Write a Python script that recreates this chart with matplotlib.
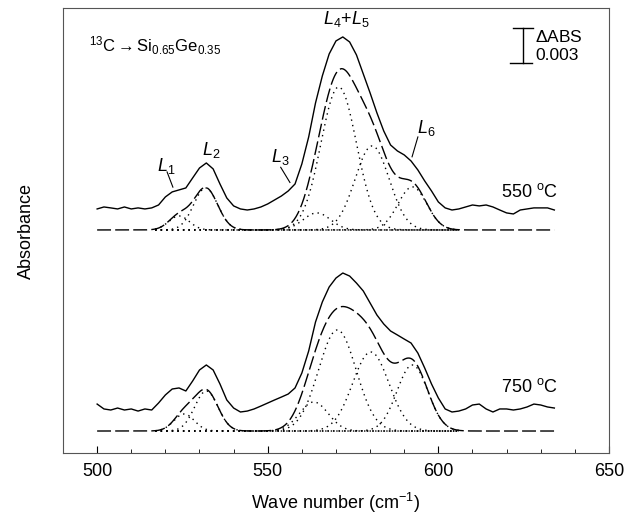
import matplotlib
matplotlib.use('Agg')
import matplotlib.pyplot as plt
import numpy as np

plt.rcParams['font.family'] = ['Liberation Sans', 'DejaVu Sans']
plt.rcParams['mathtext.fontset'] = 'custom'
plt.rcParams['mathtext.rm'] = 'Liberation Sans'
plt.rcParams['mathtext.it'] = 'Liberation Sans:italic'

# measured spectra, every 2 cm-1 from 500 to 634 (in 1e-3 ABS above fit baseline)
wn = np.arange(500, 636, 2)
meas_550 = [1.80, 1.97, 1.89, 1.80, 1.97, 1.80, 1.89, 1.80, 1.89, 2.14,
            2.83, 3.26, 3.43, 3.60, 4.46, 5.31, 5.74, 5.23, 3.94, 2.74,
            2.06, 1.80, 1.71, 1.80, 1.97, 2.23, 2.57, 2.91, 3.34, 3.94,
            5.66, 7.97, 10.88, 13.20, 15.08, 16.20, 16.54, 16.11, 15.00, 13.37,
            11.74, 10.03, 8.48, 7.28, 6.77, 6.43, 5.91, 5.14, 4.20, 3.34,
            2.40, 1.89, 1.71, 1.80, 1.97, 2.14, 2.06, 2.14, 1.97, 1.71,
            1.46, 1.37, 1.71, 1.80, 1.89, 1.89, 1.89, 1.71]
meas_750 = [2.31, 1.89, 1.80, 1.97, 1.80, 1.89, 1.71, 1.89, 1.80, 2.40,
            3.09, 3.60, 3.69, 3.43, 4.29, 5.23, 5.66, 5.23, 4.03, 2.66,
            1.97, 1.63, 1.71, 1.89, 2.14, 2.40, 2.66, 2.91, 3.17, 3.69,
            4.97, 6.86, 9.34, 11.06, 12.34, 13.11, 13.54, 13.28, 12.68, 12.00,
            10.97, 9.94, 9.17, 8.57, 8.23, 7.88, 7.54, 6.68, 5.40, 4.03,
            2.83, 1.89, 1.63, 1.71, 1.89, 2.23, 2.31, 1.89, 1.63, 1.89,
            1.89, 1.80, 1.89, 2.06, 2.31, 2.23, 2.06, 1.97]

# fitted gaussian components L1..L6: centre (cm-1), height (1e-3 ABS), sigma (cm-1)
cen_550 = [524.0, 531.8, 564.4, 570.8, 580.6, 592.4]
amp_550 = [1.20, 3.60, 1.46, 12.25, 7.20, 3.69]
sig_550 = [3.0, 3.5, 4.0, 5.2, 5.0, 4.2]
cen_750 = [525.5, 532.0, 563.5, 570.4, 580.2, 592.4]
amp_750 = [1.46, 3.43, 2.49, 8.66, 6.77, 5.66]
sig_750 = [3.0, 3.4, 4.2, 5.5, 5.3, 4.5]

offset_550 = 17.23   # vertical shift of the 550 C spectrum
offset_750 = 0.0

fig = plt.figure(figsize=(6.41, 5.20), dpi=100)
ax = fig.add_axes([0.0983, 0.1288, 0.8517, 0.8558])

x = np.linspace(500, 634, 700)
xc = np.linspace(517, 606, 400)

def draw(meas, cen, amp, sig, off):
    ax.plot(wn, np.array(meas) + off, color='k', lw=1.0)
    total = np.zeros_like(x)
    for c, a, s in zip(cen, amp, sig):
        total += a * np.exp(-(x - c)**2 / (2 * s**2))
        ax.plot(xc, a * np.exp(-(xc - c)**2 / (2 * s**2)) + off, color='k',
                lw=1.0, linestyle=(0, (1, 3)))
    ax.plot(x, total + off, color='k', lw=1.0, dashes=(10, 3))

draw(meas_550, cen_550, amp_550, sig_550, offset_550)
draw(meas_750, cen_750, amp_750, sig_750, offset_750)

# peak labels
fs = 13
ax.text(520.2, 22.7, r'$\mathit{L_1}$', fontsize=fs, ha='center', va='center')
ax.plot([520.5, 522.2], [22.2, 20.9], color='k', lw=0.8)
ax.text(533.4, 24.1, r'$\mathit{L_2}$', fontsize=fs, ha='center', va='center')
ax.text(553.6, 23.5, r'$\mathit{L_3}$', fontsize=fs, ha='center', va='center')
ax.plot([553.8, 556.5], [22.6, 21.3], color='k', lw=0.8)
ax.text(572.9, 35.3, r'$\mathit{L_4}$+$\mathit{L_5}$', fontsize=fs, ha='center', va='center')
ax.text(596.6, 26.0, r'$\mathit{L_6}$', fontsize=fs, ha='center', va='center')
ax.plot([594.0, 592.3], [25.2, 23.5], color='k', lw=0.8)

ax.text(635, 20.5, r'550 $^{\rm o}$C', fontsize=fs, ha='right', va='center')
ax.text(635, 3.8, r'750 $^{\rm o}$C', fontsize=fs, ha='right', va='center')

ax.text(497.5, 33.0, r'$^{13}$C$\rightarrow$Si$_{0.65}$Ge$_{0.35}$', fontsize=12,
        ha='left', va='center')

# scale bar
ax.plot([624.8, 624.8], [31.54, 34.54], color='k', lw=1.0)
ax.plot([621.8, 627.6], [34.54, 34.54], color='k', lw=1.0)
ax.plot([621.0, 627.4], [31.54, 31.54], color='k', lw=1.0)
ax.text(628.3, 33.8, r'$\Delta$ABS', fontsize=12.5, ha='left', va='center')
ax.text(628.3, 32.2, '0.003', fontsize=12.5, ha='left', va='center')

ax.set_xlim(490, 650)
ax.set_ylim(-1.886, 36.25)
ax.set_xticks([500, 550, 600, 650])
ax.set_xticks(np.arange(490, 651, 10), minor=True)
ax.set_yticks([])
ax.tick_params(axis='x', direction='in', labelsize=fs, length=5, pad=7)
ax.tick_params(axis='x', which='minor', direction='in', length=3)
for sp in ax.spines.values():
    sp.set_color('#555555')
ax.set_xlabel('Wave number (cm$^{-1}$)', fontsize=fs, labelpad=8)
ax.set_ylabel('Absorbance', fontsize=fs, labelpad=20)

fig.savefig('out.png', dpi=100)
